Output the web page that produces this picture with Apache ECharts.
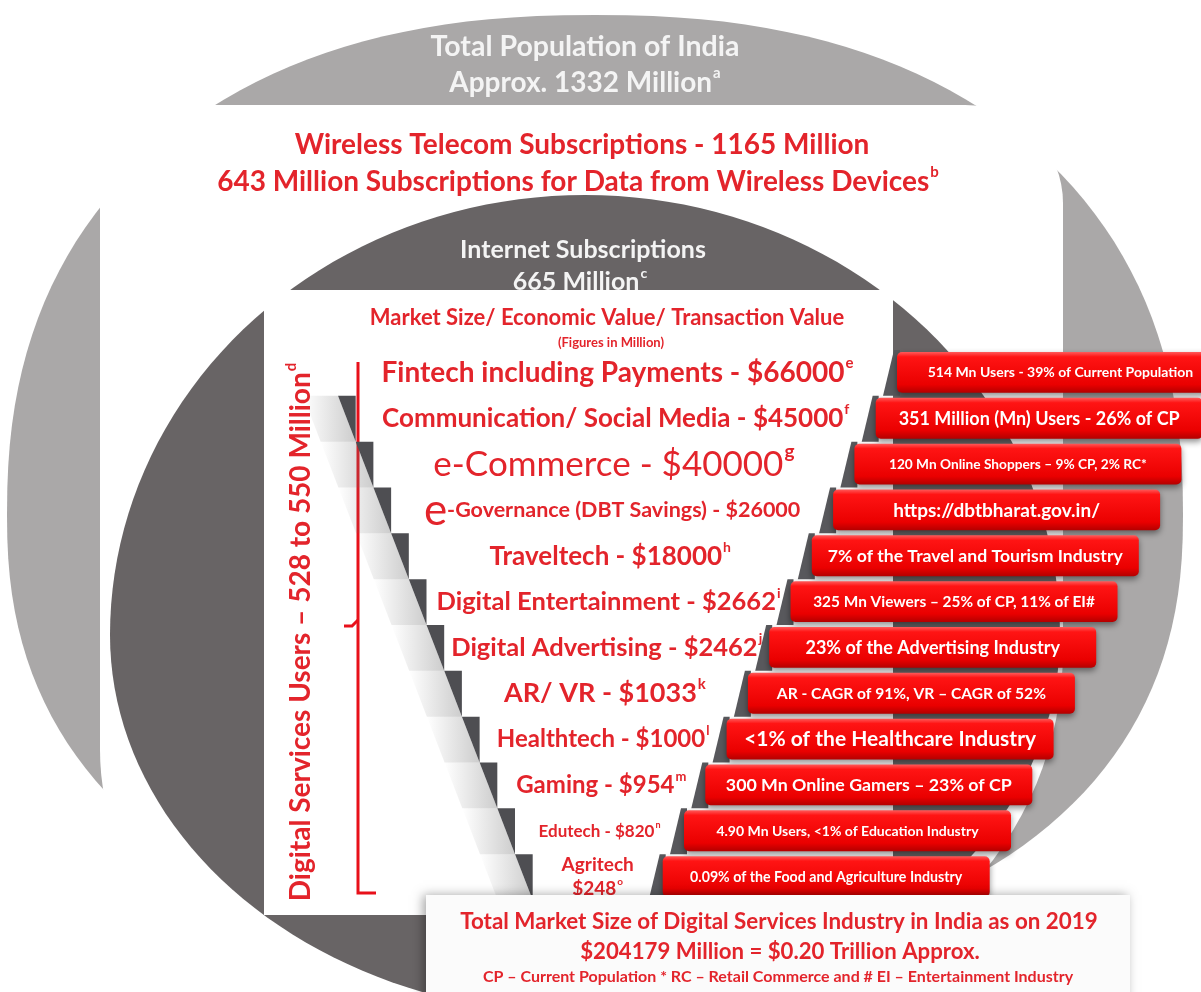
<!DOCTYPE html>
<html>
<head>
<meta charset="utf-8">
<title>Digital Services Industry in India</title>
<script src="https://cdn.jsdelivr.net/npm/echarts@6.0.0/dist/echarts.min.js"></script>
<style>
  html, body { margin: 0; padding: 0; background: #ffffff; }
  #main { width: 1201px; height: 992px; }
</style>
</head>
<body>
<div id="main"></div>
<script>
// rows of the funnel, top to bottom
const sectors = ['Fintech including Payments', 'Communication/ Social Media', 'e-Commerce',
  'e-Governance (DBT Savings)', 'Traveltech', 'Digital Entertainment', 'Digital Advertising',
  'AR/ VR', 'Healthtech', 'Gaming', 'Edutech', 'Agritech'];
const marketSize = [66000, 45000, 40000, 26000, 18000, 2662, 2462, 1033, 1000, 954, 820, 248];
const sourceMark = ['e', 'f', 'g', '', 'h', 'i', 'j', 'k', 'l', 'm', 'n', 'o'];
const usageNotes = ['514 Mn Users - 39% of Current Population', '351 Million (Mn) Users - 26% of CP',
  '120 Mn Online Shoppers – 9% CP, 2% RC*', 'https://dbtbharat.gov.in/',
  '7% of the Travel and Tourism Industry', '325 Mn Viewers – 25% of CP, 11% of EI#',
  '23% of the Advertising Industry', 'AR - CAGR of 91%, VR – CAGR of 52%',
  '<1% of the Healthcare Industry', '300 Mn Online Gamers – 23% of CP',
  '4.90 Mn Users, <1% of Education Industry', '0.09% of the Food and Agriculture Industry'];

const population = ['Total Population of India', 'Approx. 1332 Million', 'a'];
const wireless = ['Wireless Telecom Subscriptions - 1165 Million', '643 Million Subscriptions for Data from Wireless Devices', 'b'];
const internet = ['Internet Subscriptions', '665 Million', 'c'];
const digitalUsers = ['Digital Services Users – 528 to 550 Million', 'd'];
const tableHead = ['Market Size/ Economic Value/ Transaction Value', '(Figures in Million)'];
const totalHead = 'Total Market Size of Digital Services Industry in India as on 2019';
const legendNote = 'CP – Current Population * RC – Retail Commerce and # EI – Entertainment Industry';

// styling per row (not data)
const labelSize = [28, 26, 35, 21.5, 26, 25.5, 25.5, 27, 24, 24, 17, 19];
const labelWeight = ['bold', 'bold', 'normal', 'bold', 'bold', 'bold', 'bold', 'bold', 'bold', 'bold', 'bold', 'bold'];
const bigInitial = [0, 0, 0, 44, 0, 0, 0, 0, 0, 0, 0, 0];
const wrapLabel = [false, false, false, false, false, false, false, false, false, false, false, true];
const noteSize = [14, 18, 13.7, 19, 17.6, 15.4, 18, 15.6, 21, 17.8, 14, 14.2];

const FONT = 'Lato, "Open Sans", sans-serif';
const RED = '#e3242b';
const LIGHT = '#aaa8a8';
const DARK = '#686465';

// stair layout (axis units = pixels)
const STEP_X0 = 338, STEP_DX = 17.7;
const BOX_X0 = 897, BOX_DX = 21.3, BOX_W = 327;

const total = marketSize.reduce((a, b) => a + b, 0);

function blob(cx, cy, a, bTop, bBot, n) {
  const pts = [];
  for (let k = 0; k < 180; k++) {
    const t = k / 180 * Math.PI * 2;
    const c = Math.cos(t), s = Math.sin(t);
    const b = s < 0 ? bTop : bBot;
    pts.push([cx + a * Math.sign(c) * Math.pow(Math.abs(c), 2 / n),
      cy + b * Math.sign(s) * Math.pow(Math.abs(s), 2 / n)]);
  }
  return pts;
}

function headText(x, y, main, sup, size, color, weight, z) {
  return {
    type: 'text', x: x, y: y, z: z || 1,
    style: {
      text: '{m|' + main + '}' + (sup ? '{s|' + sup + '}' : ''),
      fill: color, align: 'center', verticalAlign: 'middle',
      textAlign: 'center', textVerticalAlign: 'middle',
      rich: {
        m: { fontSize: size, fontWeight: weight, fontFamily: FONT, fill: color, lineHeight: size * 1.25 },
        s: { fontSize: Math.round(size * 0.55), fontWeight: 'bold', fontFamily: FONT, fill: color, verticalAlign: 'top', padding: [0, 0, 0, 1] }
      }
    }
  };
}

function sectorText(i) {
  const name = sectors[i];
  const val = '$' + marketSize[i];
  const sup = sourceMark[i] ? '{s|' + sourceMark[i] + '}' : '';
  if (bigInitial[i]) return '{e|' + name[0] + '}{t|' + name.slice(1) + ' - ' + val + '}' + sup;
  if (wrapLabel[i]) return '{t|' + name + '}\n{t|' + val + '}' + sup;
  return '{t|' + name + ' - ' + val + '}' + sup;
}

const redFill = {
  type: 'linear', x: 0, y: 0, x2: 0, y2: 1,
  colorStops: [
    { offset: 0, color: '#ff5a5a' },
    { offset: 0.12, color: '#ff1414' },
    { offset: 0.8, color: '#ea0000' },
    { offset: 1, color: '#b40000' }
  ]
};

function renderRow(params, api) {
  const row = api.value(1);
  const mid = api.coord([0, row]);
  const h = api.size([0, 1])[1];
  const top = mid[1] - h / 2, bot = mid[1] + h / 2;
  const px = v => api.coord([v, row])[0];
  const stepL = px(STEP_X0 + STEP_DX * row);
  const prevL = px(STEP_X0 + STEP_DX * (row - 1));
  const boxL = px(BOX_X0 - BOX_DX * row);
  const boxR = px(BOX_X0 - BOX_DX * row + BOX_W);
  const children = [];
  if (row > 0) {
    children.push({
      type: 'polygon',
      shape: { points: [[prevL - 35, top], [prevL, top], [stepL, bot], [stepL - 35, bot]] },
      style: { fill: { type: 'linear', x: 0, y: 0, x2: 1, y2: 0, colorStops: [
        { offset: 0, color: 'rgba(110,110,110,0)' }, { offset: 1, color: 'rgba(110,110,110,0.35)' }] } }
    });
    children.push({
      type: 'polygon',
      shape: { points: [[prevL, top], [stepL, top], [stepL, bot]] },
      style: { fill: '#4e4e52' }
    });
  }
  children.push({
    type: 'polygon',
    shape: { points: [[boxL - 14, bot], [boxL - 3, top], [boxL + 3, top], [boxL + 3, bot]] },
    style: { fill: '#58585c' }
  });
  children.push({
    type: 'rect',
    shape: { x: boxL, y: top + 2, width: boxR - boxL, height: h - 5, r: 5 },
    style: { fill: redFill, shadowBlur: 6, shadowOffsetY: 3, shadowColor: 'rgba(0,0,0,0.45)' }
  });
  children.push({
    type: 'text',
    style: {
      x: (boxL + boxR) / 2, y: mid[1], text: usageNotes[row],
      fill: '#ffffff', fontSize: noteSize[row], fontWeight: 'bold', fontFamily: FONT,
      align: 'center', verticalAlign: 'middle', textAlign: 'center', textVerticalAlign: 'middle'
    }
  });
  const s = labelSize[row];
  children.push({
    type: 'text',
    style: {
      x: (stepL + boxL) / 2, y: mid[1], text: sectorText(row), fill: RED,
      align: 'center', verticalAlign: 'middle', textAlign: 'center', textVerticalAlign: 'middle',
      rich: {
        t: { fontSize: s, fontWeight: labelWeight[row], fontFamily: FONT, fill: RED, lineHeight: s * 1.25, align: 'center' },
        s: { fontSize: Math.round(s * 0.55), fontWeight: 'bold', fontFamily: FONT, fill: RED, verticalAlign: 'top', padding: [0, 0, 0, 1] },
        e: { fontSize: bigInitial[row] || s, fontFamily: FONT, fill: RED }
      }
    }
  });
  return { type: 'group', children: children };
}

const chart = echarts.init(document.getElementById('main'));

const option = {
  backgroundColor: '#ffffff',
  animation: false,
  grid: { left: 0, right: 0, top: 350, bottom: 92 },
  xAxis: { type: 'value', min: 0, max: 1201, show: false },
  yAxis: { type: 'category', data: sectors, inverse: true, show: false },
  graphic: [
    { type: 'polygon', z: 0, shape: { points: blob(595, 515, 588, 500, 440, 2.3) }, style: { fill: LIGHT } },
    { type: 'rect', z: 0, shape: { x: 100, y: 105, width: 963, height: 895, r: [98, 98, 350, 250] }, style: { fill: '#ffffff' } },
    { type: 'polygon', z: 0, shape: { points: blob(585, 635, 475, 440, 380, 2) }, style: { fill: DARK } },
    { type: 'rect', z: 0, shape: { x: 264, y: 290, width: 629, height: 625 }, style: { fill: '#ffffff' } },
    headText(585, 47, population[0], '', 28.5, '#f4f4f4', 'bold'),
    headText(585, 83, population[1], population[2], 28, '#f4f4f4', 'bold'),
    headText(582, 145, wireless[0], '', 28, RED, 'bold'),
    headText(578, 182, wireless[1], wireless[2], 28, RED, 'bold'),
    headText(583, 250, internet[0], '', 25, '#f4f4f4', 'bold'),
    headText(580, 282, internet[1], internet[2], 25, '#f4f4f4', 'bold'),
    headText(607, 318, tableHead[0], '', 22, RED, 'bold', 3),
    headText(611, 343, tableHead[1], '', 13, RED, 'bold', 3),
    // bracket
    { type: 'polyline', z: 3, shape: { points: [[358, 362], [358, 893], [376, 893]] }, style: { stroke: '#e8101a', lineWidth: 3, fill: null } },
    { type: 'polyline', z: 3, shape: { points: [[344, 626], [352, 626], [358, 620]] }, style: { stroke: '#e8101a', lineWidth: 3, fill: null } },
    Object.assign(headText(0, 0, digitalUsers[0], digitalUsers[1], 28, RED, 'bold', 3), { x: 301, y: 632, rotation: Math.PI / 2 }),
    // total box
    { type: 'rect', z: 10, shape: { x: 426, y: 895, width: 704, height: 110 }, style: { fill: '#fbfbfb', shadowBlur: 10, shadowOffsetX: -3, shadowColor: 'rgba(0,0,0,0.35)' } },
    headText(779, 922, totalHead, '', 22.4, RED, 'bold', 11),
    headText(780, 952, '$' + total + ' Million = $' + (total / 1e6).toFixed(2) + ' Trillion Approx.', '', 22.2, RED, 'bold', 11),
    headText(778, 977, legendNote, '', 16, RED, 'bold', 11)
  ],
  series: [{
    type: 'custom',
    z: 5,
    clip: false,
    renderItem: renderRow,
    encode: { x: 0, y: 1 },
    data: marketSize.map((v, i) => [0, i, v])
  }]
};

chart.setOption(option);
window.addEventListener('resize', () => chart.resize());
</script>
</body>
</html>
